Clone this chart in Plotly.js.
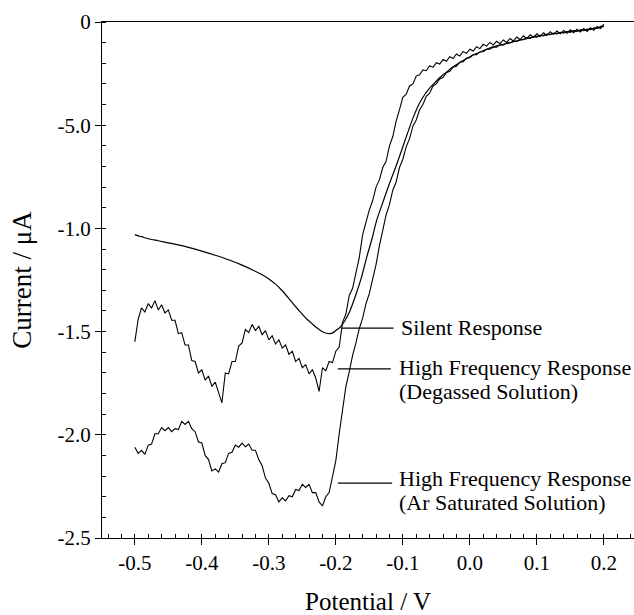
<!DOCTYPE html>
<html>
<head>
<meta charset="utf-8">
<script src="https://cdn.plot.ly/plotly-3.0.1.min.js"></script>
<style>
  html, body { margin: 0; padding: 0; background: #fff; }
  #chart { width: 634px; height: 615px; }
</style>
</head>
<body>
<div id="chart"></div>
<script>
// Potential grid (V) shared by the two high-frequency traces
const potential = [
  -0.500,-0.495,-0.490,-0.485,-0.480,-0.475,-0.470,-0.465,-0.460,-0.455,
  -0.450,-0.445,-0.440,-0.435,-0.430,-0.425,-0.420,-0.415,-0.410,-0.405,
  -0.400,-0.395,-0.390,-0.385,-0.380,-0.375,-0.370,-0.365,-0.360,-0.355,
  -0.350,-0.345,-0.340,-0.335,-0.330,-0.325,-0.320,-0.315,-0.310,-0.305,
  -0.300,-0.295,-0.290,-0.285,-0.280,-0.275,-0.270,-0.265,-0.260,-0.255,
  -0.250,-0.245,-0.240,-0.235,-0.230,-0.225,-0.220,-0.215,-0.210,-0.205,
  -0.200,-0.195,-0.190,-0.185,-0.180,-0.175,-0.170,-0.165,-0.160,-0.155,
  -0.150,-0.145,-0.140,-0.135,-0.130,-0.125,-0.120,-0.115,-0.110,-0.105,
  -0.100,-0.095,-0.090,-0.085,-0.080,-0.075,-0.070,-0.065,-0.060,-0.055,
  -0.050,-0.045,-0.040,-0.035,-0.030,-0.025,-0.020,-0.015,-0.010,-0.005,
   0.000, 0.005, 0.010, 0.015, 0.020, 0.025, 0.030, 0.035, 0.040, 0.045,
   0.050, 0.055, 0.060, 0.065, 0.070, 0.075, 0.080, 0.085, 0.090, 0.095,
   0.100, 0.105, 0.110, 0.115, 0.120, 0.125, 0.130, 0.135, 0.140, 0.145,
   0.150, 0.155, 0.160, 0.165, 0.170, 0.175, 0.180, 0.185, 0.190, 0.195,
   0.200
];

// High Frequency Response (Degassed Solution), current in µA
const degassed = [
  -1.550,-1.440,-1.385,-1.405,-1.365,-1.385,-1.350,-1.395,-1.370,-1.410,
  -1.395,-1.445,-1.445,-1.510,-1.505,-1.565,-1.565,-1.640,-1.645,-1.700,
  -1.685,-1.735,-1.715,-1.765,-1.745,-1.790,-1.845,-1.700,-1.705,-1.645,
  -1.645,-1.570,-1.555,-1.490,-1.505,-1.465,-1.495,-1.475,-1.515,-1.495,
  -1.540,-1.520,-1.560,-1.540,-1.580,-1.565,-1.610,-1.595,-1.645,-1.630,
  -1.675,-1.660,-1.705,-1.685,-1.725,-1.790,-1.675,-1.690,-1.645,-1.650,
  -1.595,-1.575,-1.455,-1.415,-1.325,-1.290,-1.210,-1.140,-1.030,-0.965,
  -0.910,-0.865,-0.800,-0.765,-0.705,-0.675,-0.600,-0.555,-0.480,-0.425,
  -0.365,-0.350,-0.310,-0.300,-0.262,-0.256,-0.232,-0.236,-0.212,-0.220,
  -0.197,-0.204,-0.182,-0.190,-0.168,-0.177,-0.155,-0.165,-0.143,-0.152,
  -0.132,-0.141,-0.120,-0.129,-0.108,-0.117,-0.099,-0.111,-0.093,-0.105,
  -0.087,-0.099,-0.080,-0.092,-0.073,-0.085,-0.067,-0.080,-0.062,-0.075,
  -0.057,-0.070,-0.052,-0.065,-0.047,-0.060,-0.044,-0.057,-0.041,-0.054,
  -0.038,-0.052,-0.035,-0.049,-0.032,-0.046,-0.028,-0.040,-0.022,-0.032,
  -0.010
];

// High Frequency Response (Ar Saturated Solution), current in µA
const arSaturated = [
  -2.060,-2.090,-2.075,-2.095,-2.050,-2.045,-1.995,-1.995,-1.965,-1.980,
  -1.965,-1.985,-1.970,-1.975,-1.935,-1.950,-1.935,-1.970,-1.985,-2.035,
  -2.040,-2.100,-2.120,-2.175,-2.165,-2.180,-2.140,-2.135,-2.090,-2.085,
  -2.050,-2.060,-2.040,-2.058,-2.045,-2.075,-2.075,-2.120,-2.150,-2.210,
  -2.235,-2.285,-2.290,-2.325,-2.305,-2.320,-2.295,-2.300,-2.265,-2.270,
  -2.240,-2.255,-2.240,-2.280,-2.280,-2.325,-2.345,-2.300,-2.280,-2.200,
  -2.125,-1.995,-1.885,-1.765,-1.695,-1.615,-1.555,-1.485,-1.435,-1.365,
  -1.315,-1.245,-1.175,-1.085,-1.015,-0.935,-0.885,-0.815,-0.775,-0.705,
  -0.665,-0.605,-0.565,-0.505,-0.475,-0.425,-0.400,-0.360,-0.345,-0.310,
  -0.300,-0.276,-0.269,-0.246,-0.239,-0.219,-0.214,-0.195,-0.192,-0.175,
  -0.173,-0.159,-0.158,-0.145,-0.144,-0.132,-0.132,-0.121,-0.122,-0.111,
  -0.112,-0.101,-0.102,-0.092,-0.094,-0.084,-0.086,-0.077,-0.079,-0.070,
  -0.073,-0.064,-0.067,-0.059,-0.062,-0.054,-0.058,-0.050,-0.054,-0.046,
  -0.050,-0.042,-0.046,-0.038,-0.042,-0.034,-0.037,-0.028,-0.031,-0.021,
  -0.020
];

// Silent Response (smooth trace)
const silentPotential = [
  -0.500,-0.495,-0.490,-0.480,-0.465,-0.450,-0.435,-0.420,-0.400,-0.380,
  -0.360,-0.340,-0.325,-0.310,-0.300,-0.290,-0.280,-0.270,-0.262,-0.255,
  -0.249,-0.243,-0.236,-0.230,-0.224,-0.219,-0.214,-0.209,-0.204,-0.200,
  -0.194,-0.187,-0.179,-0.170,-0.162,-0.154,-0.146,-0.139,-0.131,-0.123,
  -0.115,-0.107,-0.099,-0.091,-0.083,-0.075,-0.067,-0.060,-0.052,-0.045,
  -0.035,-0.025,-0.012, 0.000, 0.012, 0.025, 0.040, 0.055, 0.075, 0.100,
   0.125, 0.150, 0.175, 0.190, 0.200
];
const silent = [
  -1.030,-1.036,-1.040,-1.050,-1.060,-1.070,-1.080,-1.092,-1.110,-1.130,
  -1.152,-1.178,-1.200,-1.225,-1.245,-1.270,-1.302,-1.340,-1.372,-1.398,
  -1.420,-1.440,-1.460,-1.478,-1.492,-1.502,-1.508,-1.510,-1.505,-1.495,
  -1.480,-1.450,-1.400,-1.320,-1.240,-1.140,-1.050,-0.960,-0.885,-0.810,
  -0.740,-0.670,-0.595,-0.520,-0.450,-0.392,-0.350,-0.320,-0.293,-0.270,
  -0.243,-0.217,-0.190,-0.168,-0.150,-0.132,-0.116,-0.104,-0.088,-0.070,
  -0.057,-0.046,-0.037,-0.030,-0.022
];

const xTicks = [-0.5, -0.4, -0.3, -0.2, -0.1, 0.0, 0.1, 0.2];
const xTickText = ['-0.5', '-0.4', '-0.3', '-0.2', '-0.1', '0.0', '0.1', '0.2'];
const yTicks = [0, -0.5, -1.0, -1.5, -2.0, -2.5];
const yTickText = ['0', '-5.0', '-1.0', '-1.5', '-2.0', '-2.5'];

const labels = {
  silent: ['Silent Response'],
  degassed: ['High Frequency Response', '(Degassed Solution)'],
  ar: ['High Frequency Response', '(Ar Saturated Solution)']
};

const serif = 'Liberation Serif';
const lineStyle = { color: '#000', width: 1.1 };

const traces = [
  { x: potential, y: degassed, type: 'scatter', mode: 'lines', line: lineStyle, name: 'HF degassed', hoverinfo: 'x+y' },
  { x: potential, y: arSaturated, type: 'scatter', mode: 'lines', line: lineStyle, name: 'HF Ar', hoverinfo: 'x+y' },
  { x: silentPotential, y: silent, type: 'scatter', mode: 'lines', line: { color: '#000', width: 1.2, shape: 'spline', smoothing: 0.8 }, name: 'Silent', hoverinfo: 'x+y' }
];

function label(text, x, y) {
  return { text: text, x: x, y: y, xref: 'x', yref: 'y', xanchor: 'left', yanchor: 'middle',
           showarrow: false, font: { family: serif, size: 22, color: '#000' } };
}
function leader(x0, x1, y) {
  return { type: 'line', xref: 'x', yref: 'y', x0: x0, x1: x1, y0: y, y1: y,
           line: { color: '#000', width: 1.2 } };
}

const layout = {
  width: 634, height: 615,
  margin: { l: 102, r: 0, t: 22, b: 77 },
  paper_bgcolor: '#fff', plot_bgcolor: '#fff',
  showlegend: false,
  font: { family: serif, color: '#000' },
  xaxis: {
    range: [-0.549, 0.245],
    tickvals: xTicks, ticktext: xTickText,
    ticks: 'outside', ticklen: 6, tickwidth: 1, tickcolor: '#000',
    minor: { dtick: 0.02, tick0: -0.5, ticks: 'inside', ticklen: 4, tickcolor: '#000', showgrid: false },
    showline: true, linecolor: '#000', linewidth: 1, mirror: true,
    showgrid: false, zeroline: false,
    tickfont: { family: serif, size: 21, color: '#000' },
    title: { text: 'Potential / V', font: { family: serif, size: 25, color: '#000' }, standoff: 18 }
  },
  yaxis: {
    range: [-2.5, 0],
    tickvals: yTicks, ticktext: yTickText,
    ticks: 'outside', ticklen: 6, tickwidth: 1, tickcolor: '#000',
    minor: { dtick: 0.1, tick0: 0, ticks: 'inside', ticklen: 4, tickcolor: '#000', showgrid: false },
    showline: true, linecolor: '#000', linewidth: 1, mirror: false,
    showgrid: false, zeroline: false,
    tickfont: { family: serif, size: 21, color: '#000' },
    title: { text: 'Current / μA', font: { family: serif, size: 27, color: '#000' }, standoff: 18 }
  },
  shapes: [
    leader(-0.191, -0.114, -1.483),
    leader(-0.197, -0.118, -1.681),
    leader(-0.197, -0.116, -2.234)
  ],
  annotations: [
    label(labels.silent[0], -0.106, -1.478),
    label(labels.degassed[0], -0.108, -1.674),
    label(labels.degassed[1], -0.108, -1.792),
    label(labels.ar[0], -0.108, -2.212),
    label(labels.ar[1], -0.108, -2.326)
  ]
};

Plotly.newPlot('chart', traces, layout, { displayModeBar: false, staticPlot: true });
</script>
</body>
</html>
